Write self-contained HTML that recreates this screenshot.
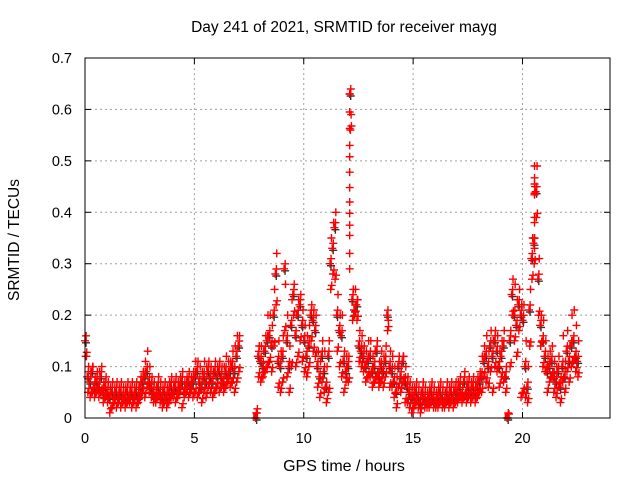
<!DOCTYPE html>
<html><head><meta charset="utf-8"><style>
body{margin:0;background:#fff}
svg{display:block;font-family:"Liberation Sans",sans-serif}
</style></head><body>
<svg id="chart" width="640" height="480">
<text x="344" y="32" text-anchor="middle" font-size="15.5">Day 241 of 2021, SRMTID for receiver mayg</text>
<text x="344" y="471" text-anchor="middle" font-size="16">GPS time / hours</text>
<text transform="translate(19,240) rotate(-90)" text-anchor="middle" font-size="15.5">SRMTID / TECUs</text>
<g id="grid"></g>
<g id="ticks"></g>
<g id="black"></g>
<g id="red"></g>
<rect x="85" y="58" width="525" height="360" fill="none" stroke="#000"/>
</svg>
<script>
const n=null;
const xTicks=[0,5,10,15,20];
const yTicks=[0,0.1,0.2,0.3,0.4,0.5,0.6,0.7];
const yTickLabels=["0","0.1","0.2","0.3","0.4","0.5","0.6","0.7"];
const vMid=[.15,.08,.07,.09,.06,.07,.06,.08,.05,.06,
.05,.04,.05,.04,.05,.04,.05,.04,.04,.05,
.04,.05,.04,.05,.04,.06,.07,.08,.09,.07,
.06,.05,.04,.06,.05,.04,.05,.04,.05,.06,
.05,.06,.05,.06,.07,.05,.06,.07,.06,.07,
.08,.09,.07,.06,.08,.07,.09,.08,.07,.09,
.08,.09,.08,.07,.09,.08,.09,.1,.09,.12,
.14,n,n,n,n,n,n,n,0,.12,
.11,.1,.13,.15,.16,.14,.2,.28,.11,.1,
.12,.29,.15,.1,.18,.24,.16,.2,.22,.18,
.15,.12,.14,.2,.19,.17,.1,.08,.12,.09,
.06,.12,.3,.33,.37,.2,.17,.16,.11,.09,
.1,.63,.23,.21,.22,.14,.13,.12,.1,.11,
.12,.09,.1,.13,.08,.1,.09,.11,.2,.1,
.09,.07,.05,.1,.08,.11,.07,.06,.05,.04,
.04,.05,.04,.03,.05,.04,.03,.04,.05,.04,
.03,.04,.05,.04,.03,.05,.04,.05,.04,.05,
.05,.06,.04,.07,.05,.06,.05,.06,.05,.06,
.07,.08,.11,.12,.1,.14,.12,.15,.13,.1,
.12,.14,.08,0,.15,.24,.2,.18,.22,.2,
.19,.1,.06,.21,.31,.34,.44,.27,.18,.15,
.12,.09,.1,.11,.08,.07,.09,.06,.1,.08,
.13,.11,.14,.15,.12,.11];
const vLo=[.12,.05,.04,.05,.04,.05,.04,.05,.03,.04,
.03,.01,.02,.03,.02,.03,.02,.03,.02,.03,
.03,.02,.03,.02,.03,.04,.05,.04,.06,.05,
.04,.03,.03,.04,.03,.02,.03,.02,.03,.04,
.04,.03,.04,.05,.02,.04,.05,.04,.05,.04,
.05,.04,.05,.03,.05,.04,.06,.05,.04,.05,
.06,.05,.06,.05,.06,.07,.06,.07,.05,.07,
.09,n,n,n,n,n,n,n,.01,.08,
.07,.08,.09,.1,.11,.09,.14,.22,.06,.05,
.07,.17,.08,.05,.1,.2,.1,.12,.15,.11,
.09,.08,.1,.15,.13,.12,.06,.04,.07,.05,
.03,.05,.25,.28,.27,.13,.1,.08,.05,.07,
.07,.56,.19,.2,.19,.11,.1,.09,.07,.08,
.08,.06,.07,.08,.06,.07,.06,.08,.17,.06,
.06,.04,.02,.06,.05,.07,.03,.03,.02,.01,
.02,.03,.02,.01,.03,.02,.02,.02,.03,.02,
.02,.02,.03,.02,.02,.03,.02,.03,.02,.03,
.03,.04,.03,.04,.03,.04,.03,.04,.03,.04,
.05,.05,.08,.07,.06,.09,.05,.1,.09,.06,
.08,.07,.05,0,.1,.2,.15,.12,.17,.04,
.05,.04,.03,.14,.27,.3,.39,.2,.14,.1,
.09,.05,.07,.08,.05,.04,.06,.03,.07,.05,
.09,.07,.1,.11,.09,.08];
const vHi=[.12,.1,.09,.1,.08,.09,.09,.1,.07,.08,
.07,.06,.07,.06,.07,.06,.07,.06,.06,.07,
.06,.07,.06,.07,.06,.08,.09,.11,.13,.1,
.08,.07,.06,.08,.07,.06,.07,.06,.07,.08,
.07,.08,.07,.08,.09,.07,.08,.09,.08,.09,
.11,.11,.1,.09,.11,.1,.11,.1,.09,.11,
.1,.11,.1,.1,.12,.11,.11,.13,.14,.16,
.16,n,n,n,n,n,n,n,n,.14,
.14,.13,.16,.2,.2,.18,.25,.32,.15,.13,
.16,.26,.2,.14,.23,.26,.2,.23,.24,.21,
.18,.16,.18,.22,.21,.2,.13,.11,.15,.13,
.1,.15,.35,.38,.4,.24,.2,.2,.13,.12,
.12,.59,.25,.25,.23,.17,.16,.14,.13,.15,
.15,.12,.13,.15,.11,.13,.12,.14,.19,.13,
.12,.1,.08,.12,.1,.12,.1,.08,.07,.06,
.06,.07,.06,.05,.07,.06,.05,.06,.07,.06,
.05,.06,.07,.06,.05,.07,.06,.07,.06,.07,
.07,.08,.06,.09,.07,.08,.07,.08,.07,.08,
.09,.12,.14,.16,.13,.17,.15,.17,.16,.13,
.15,.17,.1,n,.17,.27,.26,.23,.25,.22,
.22,.15,.1,.25,.35,.45,.49,.31,.2,.19,
.15,.12,.13,.14,.11,.1,.12,.08,.16,.11,
.17,.14,.2,.21,.18,.15];
const extraT=[12.1,12.1,12.1,12.1,12.1,12.1,12.1,12.1,12.1,12.1,12.1,12.1,12.1,20.55,20.55,20.55,20.55,20.55,20.55,20.55,20.55,20.55];
const extraV=[.63,.595,.563,.53,.508,.478,.448,.42,.398,.375,.355,.32,.29,.49,.467,.455,.437,.434,.39,.38,.35,.33,.31];
const zeroT=[7.8,19.3];
const X=t=>85+t*(525/24), Y=v=>418-v*(360/0.7);
const NS="http://www.w3.org/2000/svg";
function mk(tag,attrs,parent){const e=document.createElementNS(NS,tag);for(const k in attrs)e.setAttribute(k,attrs[k]);parent.appendChild(e);return e;}
const grid=document.getElementById('grid'),ticks=document.getElementById('ticks');
yTicks.forEach((v,i)=>{
 if(v>0&&v<0.7){const l=mk('line',{x1:85,x2:610,y1:Y(v),y2:Y(v),stroke:'#a0a0a0','stroke-dasharray':'2,3'},grid);
 
 }
 mk('line',{x1:85,x2:91,y1:Y(v),y2:Y(v),stroke:'#000'},ticks);
 mk('line',{x1:604,x2:610,y1:Y(v),y2:Y(v),stroke:'#000'},ticks);
 const t=mk('text',{x:72,y:Y(v)+5,'text-anchor':'end','font-size':14.5},ticks);t.textContent=yTickLabels[i];
 
 
});
xTicks.forEach(v=>{
 if(v>0){const l=mk('line',{x1:X(v),x2:X(v),y1:58,y2:418,stroke:'#a0a0a0','stroke-dasharray':'2,3'},grid);
 
 }
 mk('line',{x1:X(v),x2:X(v),y1:412,y2:418,stroke:'#000'},ticks);
 mk('line',{x1:X(v),x2:X(v),y1:58,y2:64,stroke:'#000'},ticks);
 const t=mk('text',{x:X(v),y:443,'text-anchor':'middle','font-size':14.5},ticks);t.textContent=String(v);
 
 
});
function plus(g,t,v,col,dx,dy){
 if(v===null)return;const x=X(t)+dx,y=Y(v)+(dy||0);
 const p=mk('path',{d:`M${x-4},${y}H${x+4}M${x},${y-4}V${y+4}`,stroke:col,'stroke-width':1.4,fill:'none'},g);
 
 
}
const bg=document.getElementById('black'),rg=document.getElementById('red');
vMid.forEach((v,i)=>{plus(bg,i/10,v,'#333',1,2);});
vMid.forEach((v,i)=>{plus(rg,i/10,v,'#f00',0);});
vLo.forEach((v,i)=>{plus(rg,i/10+0.033,v,'#f00',0);});
vHi.forEach((v,i)=>{plus(rg,i/10+0.066,v,'#f00',0);});
vMid.forEach((v,i)=>{plus(rg,i/10+0.05,v,'#f00',0,-5);});
vLo.forEach((v,i)=>{plus(rg,i/10+0.08,v,'#f00',0,-4);});
extraT.forEach((t,i)=>{plus(rg,t,extraV[i],'#f00',0);});
zeroT.forEach(t=>{const r=mk('rect',{x:X(t)-2.5,y:413,width:5,height:6,fill:'#f00'},rg);
 
 });
</script>
</body></html>
